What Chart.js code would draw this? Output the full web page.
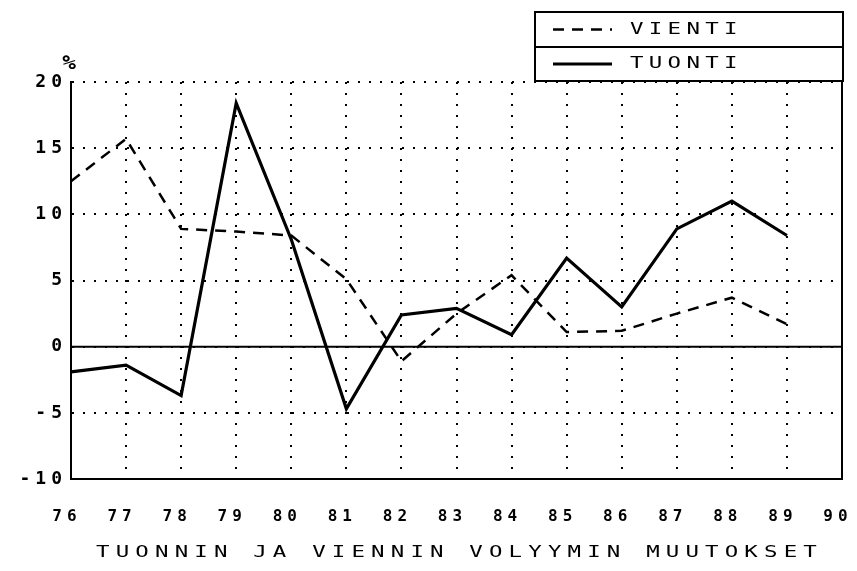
<!DOCTYPE html>
<html>
<head>
<meta charset="utf-8">
<script src="https://cdn.jsdelivr.net/npm/chart.js@4.4.1/dist/chart.umd.min.js"></script>
<style>
  html, body { margin: 0; padding: 0; background: #fff; }
  canvas { display: block; }
</style>
</head>
<body>
<canvas id="chart" width="857" height="571"></canvas>
<script>
const years = ["76", "77", "78", "79", "80", "81", "82", "83", "84", "85", "86", "87", "88", "89", "90"];
const vienti = [12.5, 15.7, 8.9, 8.7, 8.4, 5.1, -1.1, 2.5, 5.4, 1.1, 1.2, 2.5, 3.7, 1.7];
const tuonti = [-1.9, -1.4, -3.7, 18.4, 8.1, -4.7, 2.4, 2.9, 0.9, 6.7, 3.0, 8.9, 11.0, 8.4];
const seriesNames = ["VIENTI", "TUONTI"];
const axisTitle = "TUONNIN JA VIENNIN VOLYYMIN MUUTOKSET";
const unitLabel = "%";

const ink = "#000";
const plotterFont = "'DejaVu Sans Mono', monospace";

// stretched text, to look like the wide plotter lettering
const wideText = (ctx, text, x, y, align, size, weight, stretch, spacing) => {
	ctx.save();
	ctx.letterSpacing = spacing + "px";
	ctx.font = weight + " " + size + "px " + plotterFont;
	ctx.fillStyle = ink;
	ctx.textAlign = align;
	ctx.textBaseline = "middle";
	ctx.translate(x, y);
	ctx.scale(stretch, 1);
	ctx.fillText(text, 0, 0);
	ctx.restore();
};

const paperPlugin = {
	id: "paper",
	beforeDraw(chart) {
		chart.ctx.letterSpacing = "5px";
	},
	beforeDatasetsDraw(chart) {
		const { ctx, chartArea } = chart;
		const y0 = chart.scales.y.getPixelForValue(0);
		ctx.save();
		ctx.strokeStyle = ink;
		ctx.lineWidth = 2;
		ctx.beginPath();
		ctx.moveTo(chartArea.left, y0);
		ctx.lineTo(chartArea.right, y0);
		ctx.stroke();
		// right frame of the plot
		ctx.beginPath();
		ctx.moveTo(chartArea.right, chartArea.top - 2);
		ctx.lineTo(chartArea.right, chartArea.bottom);
		ctx.stroke();
		ctx.restore();
	},
	afterDraw(chart) {
		const { ctx, chartArea } = chart;
		const sets = chart.data.datasets;

		// legend box
		const boxLeft = 535, boxRight = chartArea.right + 1, boxTop = 12, boxBottom = chartArea.top - 1;
		const mid = (boxTop + boxBottom) / 2 + 0.5;
		ctx.save();
		ctx.strokeStyle = ink;
		ctx.lineWidth = 2;
		ctx.strokeRect(boxLeft, boxTop, boxRight - boxLeft, boxBottom - boxTop);
		ctx.beginPath();
		ctx.moveTo(boxLeft, mid);
		ctx.lineTo(boxRight, mid);
		ctx.stroke();
		const rows = [(boxTop + mid) / 2, (mid + boxBottom) / 2];
		sets.forEach((ds, i) => {
			ctx.save();
			ctx.lineWidth = ds.borderWidth;
			ctx.setLineDash(ds.borderDash || []);
			ctx.beginPath();
			ctx.moveTo(553, rows[i]);
			ctx.lineTo(612, rows[i]);
			ctx.stroke();
			ctx.restore();
			wideText(ctx, ds.label, 630, rows[i], "left", 16, "normal", 1.4, 3.8);
		});
		ctx.restore();

		// unit mark above the y axis
		wideText(ctx, unitLabel, chartArea.left - 2, chartArea.top - 18, "center", 19, "bold", 1.2, 0);

		// axis title under the year labels
		const cx = (chartArea.left + chartArea.right) / 2 + 3;
		wideText(ctx, axisTitle, cx, 553, "center", 16, "normal", 1.4, 4.4);
	}
};

new Chart(document.getElementById("chart"), {
	type: "line",
	data: {
		labels: years,
		datasets: [
			{
				label: seriesNames[0],
				data: vienti,
				borderColor: ink,
				borderWidth: 2.5,
				borderDash: [11, 8],
				pointRadius: 0,
				tension: 0,
				fill: false
			},
			{
				label: seriesNames[1],
				data: tuonti,
				borderColor: ink,
				borderWidth: 3.2,
				pointRadius: 0,
				tension: 0,
				fill: false
			}
		]
	},
	options: {
		responsive: false,
		animation: false,
		layout: { padding: { top: 82, right: 15, bottom: 0, left: 0 } },
		plugins: {
			legend: { display: false },
			tooltip: { enabled: false }
		},
		scales: {
			x: {
				offset: false,
				grid: { color: ink, lineWidth: 2, drawTicks: false },
				border: { display: true, color: ink, width: 2, dash: [2, 9] },
				ticks: {
					autoSkip: false,
					maxRotation: 0,
					padding: 28,
					labelOffset: -4,
					color: ink,
					font: { family: plotterFont, size: 16, weight: "bold" }
				},
				afterFit(scale) {
					scale.height = 92;
					scale.paddingLeft = 0;
					scale.paddingRight = 0;
				}
			},
			y: {
				min: -10,
				max: 20,
				grid: { color: ink, lineWidth: 2, drawTicks: false },
				border: { display: true, color: ink, width: 2, dash: [2, 9] },
				ticks: {
					stepSize: 5,
					padding: 4,
					color: ink,
					font: { family: plotterFont, size: 18, weight: "bold" }
				},
				afterFit(scale) {
					scale.width = 71;
					scale.paddingTop = 0;
					scale.paddingBottom = 0;
				}
			}
		}
	},
	plugins: [paperPlugin]
});
</script>
</body>
</html>
